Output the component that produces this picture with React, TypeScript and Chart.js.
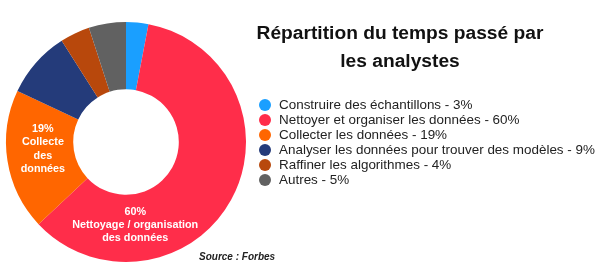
import React, { useEffect, useRef } from "react";
import { Chart, registerables } from "chart.js";

Chart.register(...registerables);

const categories = [
  "Construire des échantillons",
  "Nettoyer et organiser les données",
  "Collecter les données",
  "Analyser les données pour trouver des modèles",
  "Raffiner les algorithmes",
  "Autres",
];
const values = [3, 60, 19, 9, 4, 5];
const colors = ["#1a9fff", "#ff2d4a", "#ff6600", "#243b7a", "#b8480c", "#616161"];
const sliceLabels: (string[] | null)[] = [
  null,
  ["60%", "Nettoyage / organisation", "des données"],
  ["19%", "Collecte", "des", "données"],
  null,
  null,
  null,
];
// where, along each slice (0..1), its label sits
const labelFractions = [0.5, 0.754, 0.56, 0.5, 0.5, 0.5];
const titleLines = ["Répartition du temps passé par", "les analystes"];
const sourceText = "Source : Forbes";

const FONT = '"Liberation Sans", Arial, Helvetica, sans-serif';

const overlayPlugin = {
  id: "overlay",
  afterDatasetsDraw(chart: any) {
    const ctx = chart.ctx;
    const meta = chart.getDatasetMeta(0);
    ctx.save();
    // slice labels
    meta.data.forEach((arc: any, i: number) => {
      const lines = sliceLabels[i];
      if (!lines) return;
      const { x, y, startAngle, endAngle, innerRadius, outerRadius } = arc.getProps(
        ["x", "y", "startAngle", "endAngle", "innerRadius", "outerRadius"],
        true
      );
      const a = startAngle + (endAngle - startAngle) * labelFractions[i];
      const r = (innerRadius + outerRadius) / 2 - 3;
      const cx = x + Math.cos(a) * r;
      const cy = y + Math.sin(a) * r;
      ctx.fillStyle = "#ffffff";
      ctx.font = `bold 10.8px ${FONT}`;
      ctx.textAlign = "center";
      ctx.textBaseline = "middle";
      const lh = 13.2;
      const y0 = cy - ((lines.length - 1) * lh) / 2;
      lines.forEach((t, k) => ctx.fillText(t, cx, y0 + k * lh));
    });

    // title
    ctx.fillStyle = "#111111";
    ctx.font = `bold 19.2px ${FONT}`;
    ctx.textAlign = "center";
    ctx.textBaseline = "middle";
    ctx.fillText(titleLines[0], 400, 34);
    ctx.fillText(titleLines[1], 400, 62);

    // legend
    ctx.textAlign = "left";
    categories.forEach((c, i) => {
      const yy = 105 + i * 15;
      ctx.beginPath();
      ctx.arc(265, yy, 6, 0, Math.PI * 2);
      ctx.fillStyle = colors[i];
      ctx.fill();
      ctx.fillStyle = "#222222";
      ctx.font = `13.45px ${FONT}`;
      ctx.fillText(`${c} - ${values[i]}%`, 279, yy + 0.5);
    });

    // source
    ctx.font = `italic bold 10px ${FONT}`;
    ctx.fillStyle = "#222222";
    ctx.fillText(sourceText, 199, 257);
    ctx.restore();
  },
};

export default function App() {
  const ref = useRef<HTMLCanvasElement>(null);
  useEffect(() => {
    if (!ref.current) return;
    const chart = new Chart(ref.current, {
      type: "doughnut",
      data: {
        labels: categories,
        datasets: [
          {
            data: values,
            backgroundColor: colors,
            borderWidth: 0,
            hoverOffset: 0,
            offset: 0,
          },
        ],
      },
      options: {
        responsive: false,
        animation: false,
        devicePixelRatio: 1,
        cutout: "44%",
        rotation: 0,
        layout: { padding: { left: 6, right: 353, top: 22, bottom: 4 } },
        plugins: {
          legend: { display: false },
          title: { display: false },
          tooltip: { enabled: false },
        },
        events: [],
      },
      plugins: [overlayPlugin],
    });
    return () => chart.destroy();
  }, []);
  return (
    <div style={{ position: "absolute", left: 0, top: 0, width: 599, height: 266, background: "#fff" }}>
      <canvas ref={ref} width={599} height={266} style={{ width: 599, height: 266 }} />
    </div>
  );
}
